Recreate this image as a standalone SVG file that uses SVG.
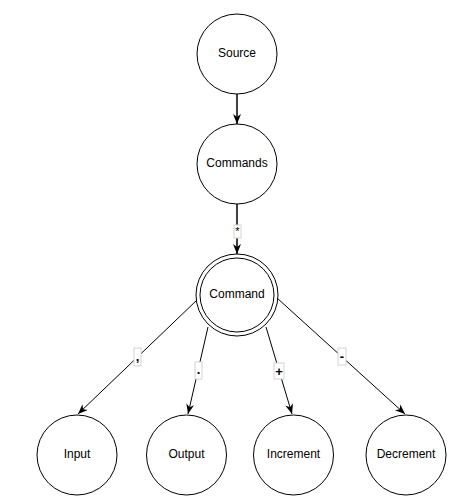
<svg xmlns="http://www.w3.org/2000/svg" width="468" height="503" viewBox="0 0 468 503">
<style>
.node{fill:#fff;stroke:#000;stroke-width:1}
.nt{font-family:"Liberation Sans",Arial,sans-serif;font-size:12px;fill:#000;text-anchor:middle;dominant-baseline:central}
.e{stroke:#000;fill:none;stroke-width:1;marker-end:url(#arr)}
.eb{stroke-width:1.5}
.lb{fill:#fff;stroke:#d4d4d4;stroke-width:1}
.lt{font-family:"Liberation Sans",Arial,sans-serif;font-size:13px;font-weight:bold;fill:#000;text-anchor:middle;dominant-baseline:central}
</style>
<defs>
<marker id="arr" markerUnits="userSpaceOnUse" markerWidth="12" markerHeight="10" refX="10" refY="4" orient="auto">
<path d="M0,0 L10,4 L0,8 L3,4 Z" fill="#000"/>
</marker>
</defs>
<rect width="468" height="503" fill="#fff"/>
<g id="connectors">
<line class="e eb" x1="237" y1="94" x2="237" y2="124"/>
<line class="e eb" x1="237" y1="204" x2="237" y2="254"/>
<rect class="lb" x="234" y="225" width="7" height="13"/>
<text class="lt" x="237.5" y="231" style="font-weight:normal;font-size:11px">*</text>
<line class="e" x1="197" y1="300" x2="78" y2="414"/>
<rect class="lb" x="134" y="348" width="7" height="18"/>
<text class="lt" x="137.5" y="356">,</text>
<line class="e" x1="208" y1="327" x2="188" y2="414"/>
<rect class="lb" x="195" y="362" width="7" height="17"/>
<text class="lt" x="198.5" y="369">.</text>
<line class="e" x1="266" y1="327" x2="292" y2="414"/>
<rect class="lb" x="274" y="363" width="10" height="16"/>
<text class="lt" x="279" y="371">+</text>
<line class="e" x1="277" y1="298" x2="405" y2="414"/>
<rect class="lb" x="338" y="348" width="8" height="17"/>
<text class="lt" x="342" y="356">-</text>
</g>
<g id="source"><circle class="node" cx="237" cy="54" r="40"/><text class="nt" x="237" y="53">Source</text></g>
<g id="commands"><circle class="node" cx="237" cy="164" r="40"/><text class="nt" x="237" y="163">Commands</text></g>
<g id="command"><circle class="node" cx="237" cy="295" r="41"/><circle class="node" cx="237" cy="295" r="37"/><text class="nt" x="237" y="294">Command</text></g>
<g id="input"><circle class="node" cx="77" cy="455" r="40"/><text class="nt" x="77" y="453.5">Input</text></g>
<g id="output"><circle class="node" cx="186.5" cy="455" r="40"/><text class="nt" x="186.5" y="453.5">Output</text></g>
<g id="increment"><circle class="node" cx="293.5" cy="455" r="40"/><text class="nt" x="293.5" y="453.5">Increment</text></g>
<g id="decrement"><circle class="node" cx="406" cy="455" r="40"/><text class="nt" x="406" y="453.5">Decrement</text></g>
</svg>
